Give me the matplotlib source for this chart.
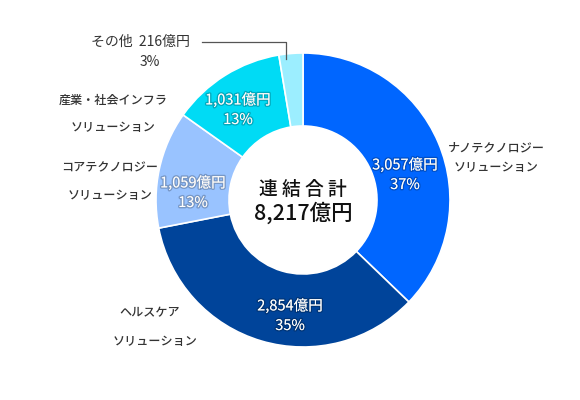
import matplotlib
matplotlib.use("Agg")
import matplotlib.pyplot as plt
import matplotlib.patheffects as pe
import numpy as np

plt.rcParams['font.family'] = ['Noto Sans CJK JP', 'DejaVu Sans']

segments = ["ナノテクノロジー\nソリューション", "ヘルスケア\nソリューション",
            "コアテクノロジー\nソリューション", "産業・社会インフラ\nソリューション", "その他"]
values = [3057, 2854, 1059, 1031, 216]
value_labels = ["3,057億円", "2,854億円", "1,059億円", "1,031億円", "216億円"]
pct_labels = ["37%", "35%", "13%", "13%", "3%"]
colors = ["#0066FF", "#00449A", "#99C3FF", "#00DBF5", "#9CEEFF"]
center_title = "連 結 合 計"
center_total = "8,217億円"

W, H = 580, 400
fig = plt.figure(figsize=(5.8, 4.0), dpi=100)
ax = fig.add_axes([0, 0, 1, 1])

cx, cy = 303, 200
R = 147
ring = 73
wedges, _ = ax.pie(values, colors=colors, startangle=90, counterclock=False,
                   center=(cx, cy), radius=R, frame=True,
                   wedgeprops=dict(width=ring, edgecolor='white', linewidth=1.2))
ax.set_xlim(0, W)
ax.set_ylim(0, H)
ax.set_aspect('equal')
ax.axis('off')

shadow = [pe.withStroke(linewidth=2.0, foreground=(0, 0, 0, 0.22))]
txt = '#333333'
wt = 'medium'

# value labels inside slices (positions in pixel coords, y down)
inner_pos = [(405, 165), (290, 306), (193, 183), (238, 100)]
for i, (px, py) in enumerate(inner_pos):
    y = H - py
    ax.text(px, y, value_labels[i], ha='center', va='center', color='white',
            fontsize=10.5, path_effects=shadow)
    ax.text(px, y - 20, pct_labels[i], ha='center', va='center', color='white',
            fontsize=10.5, path_effects=shadow)

# outer category labels
outer = [(496, 148, 168), (150, 313, 342), (110, 168, 196), (113, 100, 127)]
for i, (px, py1, py2) in enumerate(outer):
    l1, l2 = segments[i].split("\n")
    ax.text(px, H - py1, l1, ha='center', va='center', color=txt, fontsize=8.7,
            fontweight=wt)
    x2 = px + (5 if i == 1 else 0)
    ax.text(x2, H - py2, l2, ha='center', va='center', color=txt, fontsize=8.7,
            fontweight=wt)

# その他 label with leader
ax.text(140, H - 42, segments[4] + "  " + value_labels[4], ha='center', va='center',
        color=txt, fontsize=10)
ax.text(150, H - 62, pct_labels[4], ha='center', va='center', color=txt, fontsize=10)
w = wedges[4]
th = np.deg2rad((w.theta1 + w.theta2) / 2 + 2)
ex = cx + (R - 5) * np.cos(th)
ey = cy + (R - 5) * np.sin(th)
ax.plot([202, ex, ex], [H - 42, H - 42, ey], color='#555555', linewidth=0.9)

# center text
ax.text(cx, H - 189, center_title, ha='center', va='center', color='#111111',
        fontsize=13.5, fontweight=wt)
ax.text(cx, H - 213, center_total, ha='center', va='center', color='#111111',
        fontsize=15.5, fontweight=wt)

fig.savefig("out.png", dpi=100)
